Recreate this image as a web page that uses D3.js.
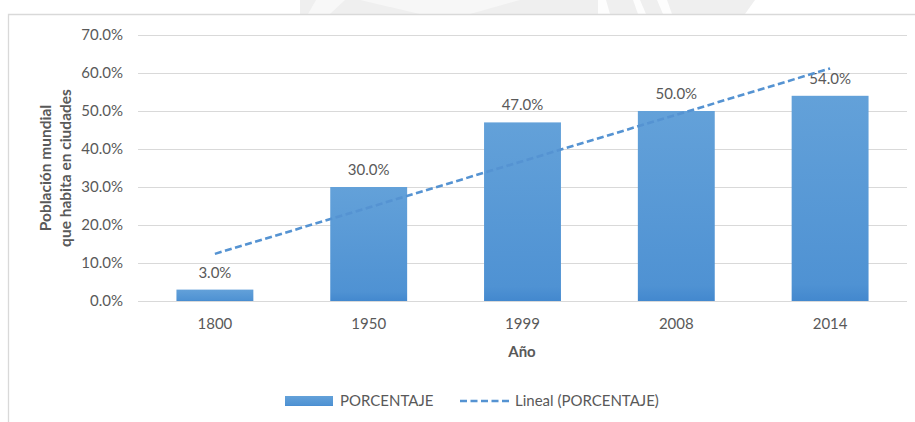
<!DOCTYPE html>
<html>
<head>
<meta charset="utf-8">
<script src="https://cdn.jsdelivr.net/npm/d3@7"></script>
<style>
  html, body { margin: 0; padding: 0; background: #fff; }
  svg { display: block; }
  text { font-family: Lato, "Open Sans", sans-serif; fill: #595959; }
</style>
</head>
<body>
<svg id="chart" width="915" height="422"></svg>
<script>
// Share of world population living in cities, by year
const years = ["1800", "1950", "1999", "2008", "2014"];
const percentages = [3.0, 30.0, 47.0, 50.0, 54.0];
const yTicks = [0, 10, 20, 30, 40, 50, 60, 70];

const seriesName = "PORCENTAJE";
const trendName = "Lineal (PORCENTAJE)";
const xTitle = "Año";
const yTitleLines = ["Población mundial", "que habita en ciudades"];

const svg = d3.select("#chart");
const W = 915, H = 422;
const plot = { left: 138, right: 907, top: 35, bottom: 301 };

// faint background mark above the chart frame
const mark = svg.append("g");
mark.append("path")
  .attr("d", "M300,0 L755,0 L745,14 L300,14 Z")
  .attr("fill", "#efefef");
mark.append("path").attr("d", "M316,0 L345,0 L330,14 L308,14 Z").attr("fill", "#f8f8f8");
mark.append("path").attr("d", "M360,0 L520,0 L470,14 L420,14 Z").attr("fill", "#f7f7f7");
mark.append("path").attr("d", "M598,0 L606,0 L610,14 L598,14 Z").attr("fill", "#fdfdfd");
mark.append("path").attr("d", "M633,0 L640,0 L646,14 L638,14 Z").attr("fill", "#fdfdfd");
mark.append("path").attr("d", "M657,0 L667,0 L672,14 L663,14 Z").attr("fill", "#fdfdfd");

// chart frame (top and left edges)
svg.append("rect")
  .attr("x", 8).attr("y", 14).attr("width", W - 8).attr("height", H - 14)
  .attr("fill", "#fff");
svg.append("path")
  .attr("d", `M8.5,${H} V14.5 H${W}`)
  .attr("fill", "none").attr("stroke", "#d9d9d9").attr("stroke-width", 1.3);

const x = d3.scaleBand().domain(years).range([plot.left, plot.right]).paddingInner(0.5).paddingOuter(0.25);
const y = d3.scaleLinear().domain([0, 70]).range([plot.bottom, plot.top]);

// gradient for bars
const defs = svg.append("defs");
const grad = defs.append("linearGradient").attr("id", "barFill")
  .attr("x1", 0).attr("y1", 0).attr("x2", 0).attr("y2", 1);
grad.append("stop").attr("offset", "0%").attr("stop-color", "#63a1d9");
grad.append("stop").attr("offset", "92%").attr("stop-color", "#4f92d3");
grad.append("stop").attr("offset", "100%").attr("stop-color", "#4388ce");

// gridlines + y axis labels
const yAxis = d3.axisLeft(y).tickValues(yTicks)
  .tickSize(-(plot.right - plot.left)).tickPadding(15)
  .tickFormat(d => d3.format(".1f")(d) + "%");
const gy = svg.append("g").attr("transform", `translate(${plot.left},0)`).call(yAxis);
gy.select(".domain").remove();
gy.selectAll(".tick line").attr("stroke", "#d9d9d9").attr("stroke-width", 1.2);
gy.selectAll(".tick text").attr("font-size", 15).attr("fill", "#595959")
  .attr("font-family", "Lato, 'Open Sans', sans-serif");

// x axis labels
const xAxis = d3.axisBottom(x).tickSize(0).tickPadding(17);
const gx = svg.append("g").attr("transform", `translate(0,${plot.bottom})`).call(xAxis);
gx.select(".domain").remove();
gx.selectAll(".tick text").attr("font-size", 15).attr("fill", "#595959")
  .attr("font-family", "Lato, 'Open Sans', sans-serif");

// bars
svg.append("g").selectAll("rect").data(percentages).join("rect")
  .attr("x", (d, i) => x(years[i]))
  .attr("y", d => y(d))
  .attr("width", x.bandwidth())
  .attr("height", d => y(0) - y(d))
  .attr("fill", "url(#barFill)");

// value labels
svg.append("g").selectAll("text").data(percentages).join("text")
  .attr("x", (d, i) => x(years[i]) + x.bandwidth() / 2)
  .attr("y", d => y(d) - 12)
  .attr("text-anchor", "middle")
  .attr("font-size", 15)
  .text(d => d3.format(".1f")(d) + "%");

// least-squares trend over the category positions
const n = percentages.length;
const idx = d3.range(1, n + 1);
const mx = d3.mean(idx), my = d3.mean(percentages);
const slope = d3.sum(idx, (v, i) => (v - mx) * (percentages[i] - my)) / d3.sum(idx, v => (v - mx) ** 2);
const intercept = my - slope * mx;
const trend = idx.map(v => intercept + slope * v);
const cx = i => x(years[i]) + x.bandwidth() / 2;
svg.append("path")
  .datum(trend)
  .attr("d", d3.line().x((d, i) => cx(i)).y(d => y(d)))
  .attr("fill", "none")
  .attr("stroke", "#5593d2")
  .attr("stroke-width", 2.6)
  .attr("stroke-dasharray", "7,3.5");

// axis titles
svg.append("text")
  .attr("x", (plot.left + plot.right) / 2 - 0.5).attr("y", 357)
  .attr("text-anchor", "middle").attr("font-size", 15).attr("font-weight", "bold")
  .text(xTitle);

const yt = svg.append("text")
  .attr("transform", `translate(51,${(plot.top + plot.bottom) / 2}) rotate(-90)`)
  .attr("text-anchor", "middle").attr("font-size", 15.5).attr("font-weight", "bold");
yTitleLines.forEach((t, i) => {
  yt.append("tspan").attr("x", 0).attr("dy", i === 0 ? 0 : 20).text(t);
});

// legend
const lg = svg.append("g");
lg.append("rect").attr("x", 285).attr("y", 396).attr("width", 48).attr("height", 10).attr("fill", "url(#barFill)");
lg.append("text").attr("x", 340).attr("y", 406).attr("font-size", 15).text(seriesName);
lg.append("line").attr("x1", 460).attr("x2", 511).attr("y1", 401).attr("y2", 401)
  .attr("stroke", "#5593d2").attr("stroke-width", 2.6).attr("stroke-dasharray", "7,3.5");
lg.append("text").attr("x", 515).attr("y", 406).attr("font-size", 15).text(trendName);
</script>
</body>
</html>
